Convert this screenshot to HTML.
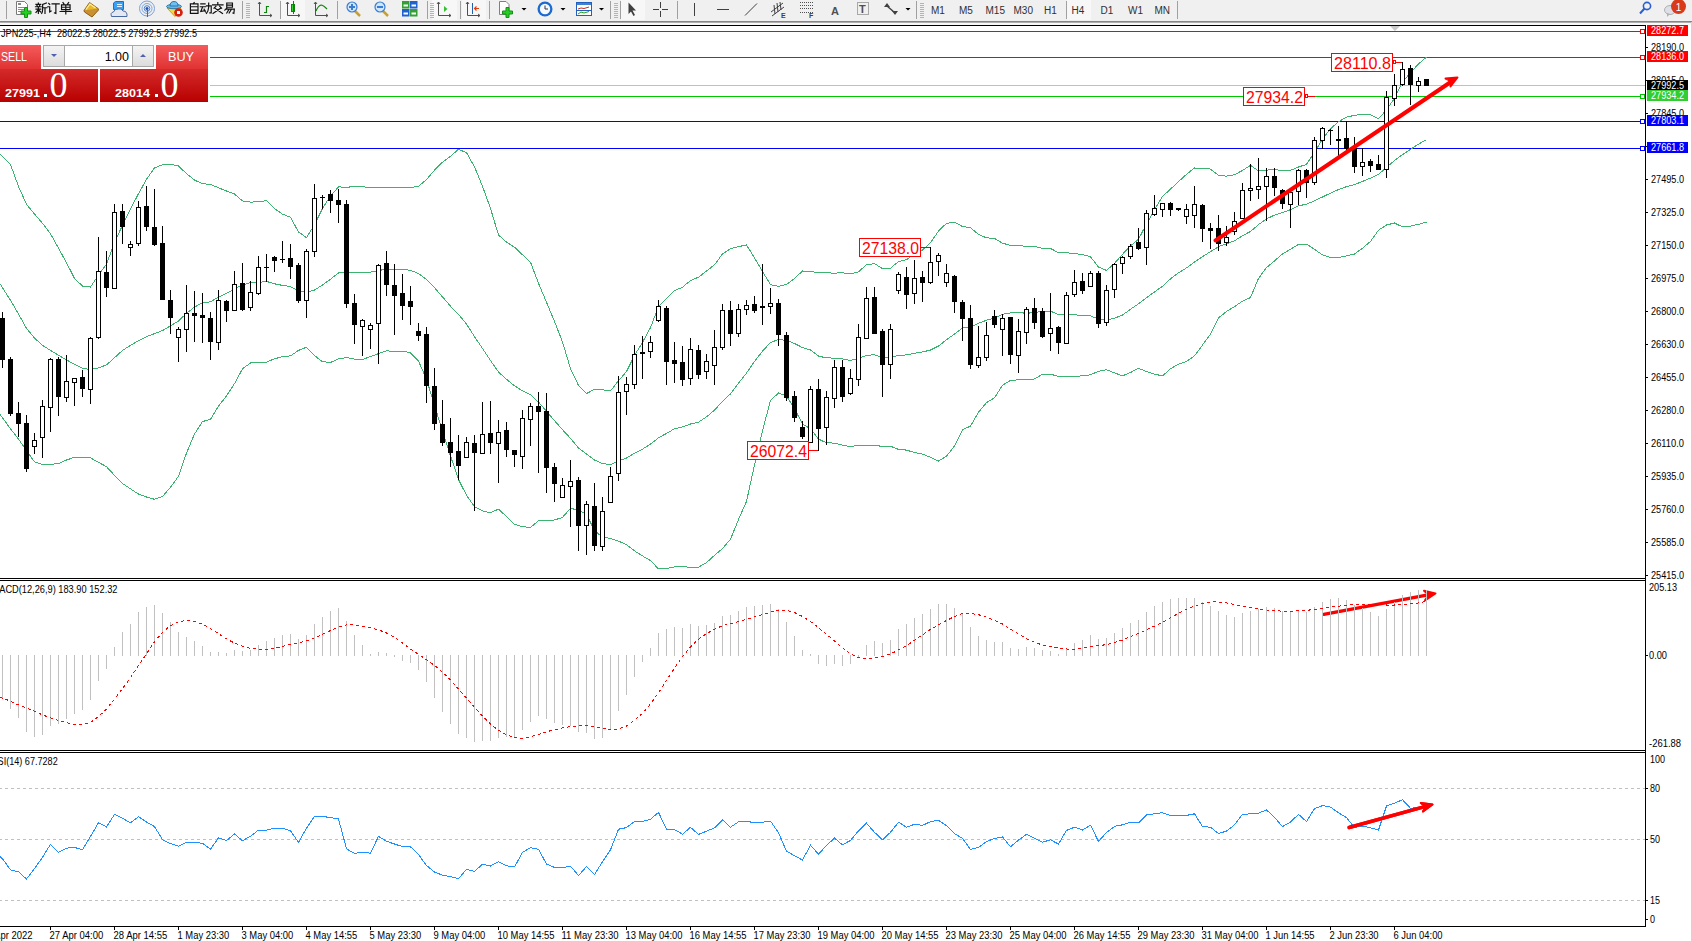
<!DOCTYPE html>
<html><head><meta charset="utf-8"><style>
html,body{margin:0;padding:0;width:1692px;height:941px;overflow:hidden;background:#fff;font-family:"Liberation Sans", sans-serif}
</style></head><body>
<svg width="1692" height="941" viewBox="0 0 1692 941" style="position:absolute;left:0;top:0" font-family='"Liberation Sans", sans-serif'><g shape-rendering="crispEdges"><rect x="0" y="0" width="1692" height="21" fill="#f0f0f0"/><rect x="0" y="21" width="1692" height="1" fill="#858585"/><rect x="0" y="22" width="1692" height="1" fill="#b0b0b0"/></g><g shape-rendering="crispEdges"><rect x="6" y="1" width="1" height="18" fill="#a0a0a0"/><rect x="281" y="0" width="24" height="20" fill="#f7f7f7"/><rect x="432" y="0" width="25" height="20" fill="#f7f7f7"/><rect x="462" y="0" width="24" height="20" fill="#f7f7f7"/><rect x="621" y="0" width="24" height="20" fill="#f7f7f7"/><rect x="1067" y="0" width="24" height="20" fill="#f7f7f7"/><rect x="242" y="1" width="1" height="18" fill="#a0a0a0"/><rect x="246" y="3" width="4" height="1" fill="#b4b4b4"/><rect x="246" y="5" width="4" height="1" fill="#b4b4b4"/><rect x="246" y="7" width="4" height="1" fill="#b4b4b4"/><rect x="246" y="9" width="4" height="1" fill="#b4b4b4"/><rect x="246" y="11" width="4" height="1" fill="#b4b4b4"/><rect x="246" y="13" width="4" height="1" fill="#b4b4b4"/><rect x="246" y="15" width="4" height="1" fill="#b4b4b4"/><rect x="246" y="17" width="4" height="1" fill="#b4b4b4"/><rect x="280" y="1" width="1" height="18" fill="#a0a0a0"/><rect x="337" y="1" width="1" height="18" fill="#a0a0a0"/><rect x="427" y="1" width="1" height="18" fill="#a0a0a0"/><rect x="430" y="3" width="4" height="1" fill="#b4b4b4"/><rect x="430" y="5" width="4" height="1" fill="#b4b4b4"/><rect x="430" y="7" width="4" height="1" fill="#b4b4b4"/><rect x="430" y="9" width="4" height="1" fill="#b4b4b4"/><rect x="430" y="11" width="4" height="1" fill="#b4b4b4"/><rect x="430" y="13" width="4" height="1" fill="#b4b4b4"/><rect x="430" y="15" width="4" height="1" fill="#b4b4b4"/><rect x="430" y="17" width="4" height="1" fill="#b4b4b4"/><rect x="460" y="1" width="1" height="18" fill="#a0a0a0"/><rect x="489" y="1" width="1" height="18" fill="#a0a0a0"/><rect x="610" y="1" width="1" height="18" fill="#a0a0a0"/><rect x="614" y="3" width="4" height="1" fill="#b4b4b4"/><rect x="614" y="5" width="4" height="1" fill="#b4b4b4"/><rect x="614" y="7" width="4" height="1" fill="#b4b4b4"/><rect x="614" y="9" width="4" height="1" fill="#b4b4b4"/><rect x="614" y="11" width="4" height="1" fill="#b4b4b4"/><rect x="614" y="13" width="4" height="1" fill="#b4b4b4"/><rect x="614" y="15" width="4" height="1" fill="#b4b4b4"/><rect x="614" y="17" width="4" height="1" fill="#b4b4b4"/><rect x="620" y="1" width="1" height="18" fill="#a0a0a0"/><rect x="677" y="1" width="1" height="18" fill="#a0a0a0"/><rect x="916" y="1" width="1" height="18" fill="#a0a0a0"/><rect x="920" y="3" width="4" height="1" fill="#b4b4b4"/><rect x="920" y="5" width="4" height="1" fill="#b4b4b4"/><rect x="920" y="7" width="4" height="1" fill="#b4b4b4"/><rect x="920" y="9" width="4" height="1" fill="#b4b4b4"/><rect x="920" y="11" width="4" height="1" fill="#b4b4b4"/><rect x="920" y="13" width="4" height="1" fill="#b4b4b4"/><rect x="920" y="15" width="4" height="1" fill="#b4b4b4"/><rect x="920" y="17" width="4" height="1" fill="#b4b4b4"/><rect x="1066" y="1" width="1" height="18" fill="#a0a0a0"/><rect x="1177" y="1" width="1" height="18" fill="#a0a0a0"/></g><path d="M16.5,1.5 H24.5 L27.5,4.5 V14.5 H16.5 Z" fill="#fff" stroke="#7a7a7a" stroke-width="1"/><rect x="18" y="3" width="3" height="2" fill="#8a8a8a"/><rect x="18" y="7" width="6" height="1" fill="#8a8a8a"/><rect x="18" y="9" width="6" height="1" fill="#8a8a8a"/><rect x="18" y="11" width="3" height="1" fill="#8a8a8a"/><path d="M24.5,7.5 h3 v3.5 h3.5 v3 h-3.5 v3.5 h-3 v-3.5 h-3.5 v-3 h3.5 z" fill="#22d022" stroke="#159015" stroke-width="1"/><path transform="translate(35.5,2.5) scale(0.95)" d="M3,0.5 V1.5 M0.5,2 H5.5 M1.5,3 L2,4 M4.5,3 L4,4 M0,4.5 H6 M0.5,7 H5.5 M3,4.5 V11.5 M3,7.5 L0.5,10.5 M3,7.5 L5.5,10 M11.5,0.5 L7.5,2 V7 Q7.5,10 6.5,11.5 M7.5,5.5 H12 M10,5.5 V11.5" fill="none" stroke="#111" stroke-width="1.25" stroke-linecap="square"/><path transform="translate(47.8,2.5) scale(0.95)" d="M1,1 L2,2 M0,4.5 H2 V10 L3.5,9 M4.5,1.5 H12 M8.5,1.5 V11.5 L7,11" fill="none" stroke="#111" stroke-width="1.25" stroke-linecap="square"/><path transform="translate(60.1,2.5) scale(0.95)" d="M3,0 L4,1.5 M9,0 L8,1.5 M1.5,2.5 H10.5 V7.5 H1.5 Z M1.5,5 H10.5 M6,2.5 V12 M0,9.5 H12" fill="none" stroke="#111" stroke-width="1.25" stroke-linecap="square"/><path transform="translate(188.5,2.5) scale(0.95)" d="M6,0 L5,1.5 M2,1.5 H10 V11.5 H2 Z M2,4.5 H10 M2,8 H10" fill="none" stroke="#111" stroke-width="1.25" stroke-linecap="square"/><path transform="translate(200.3,2.5) scale(0.95)" d="M0.5,1.5 H5 M0,4.5 H5.5 M2.5,4.5 L0.5,9.5 L5,8.5 M4,7 L5.5,10 M6.5,3.5 H11.5 V11 L10,11 M8.8,0.5 V5 Q8.5,9 6.5,11.5" fill="none" stroke="#111" stroke-width="1.25" stroke-linecap="square"/><path transform="translate(212.1,2.5) scale(0.95)" d="M6,0 V1.5 M0.5,2.5 H11.5 M4,4 L2,6 M8,4 L10,6 M3,6 L11,11.5 M9,6 L1,11.5" fill="none" stroke="#111" stroke-width="1.25" stroke-linecap="square"/><path transform="translate(223.9,2.5) scale(0.95)" d="M3,0.5 H9 V5 H3 Z M3,2.75 H9 M3,6 L1,8 M2.5,7 H11 L10.5,11.5 L9.5,11 M5.5,7 L3,11 M8,7 L5.5,11" fill="none" stroke="#111" stroke-width="1.25" stroke-linecap="square"/><path d="M84,10.5 L89.5,2.5 L98,8.5 L92,15.5 Z" fill="#e8b828" stroke="#a06a10" stroke-width="1"/><path d="M84,10.5 L84.5,12 L92,17 L98.5,10 L98,8.5" fill="#c89030" stroke="#905a10" stroke-width="1"/><path d="M86,9.5 L90,4 L95.5,8" fill="none" stroke="#fff0a0" stroke-width="1.2"/><path d="M113.5,3 L115.5,1.5 H123.5 V9.5 H113.5 Z" fill="#3aa0f4" stroke="#1a70d0" stroke-width="1"/><rect x="117" y="4" width="5" height="1" fill="#e0f0ff"/><rect x="117" y="6" width="5" height="1" fill="#e0f0ff"/><path d="M111.5,16.5 Q110,12.5 113.5,12 Q114.5,8.5 118.5,9 Q121.5,8 123,11 Q127.5,11 127,16.5 Z" fill="#e4e8f2" stroke="#4a68a0" stroke-width="1"/><circle cx="147" cy="8.5" r="7.5" fill="none" stroke="#7aa0e0" stroke-width="1"/><circle cx="147" cy="8.5" r="5" fill="none" stroke="#80a8d8" stroke-width="1"/><circle cx="147" cy="8.5" r="2.8" fill="none" stroke="#4a80d0" stroke-width="1"/><circle cx="147" cy="8.5" r="1.5" fill="#2050c0"/><rect x="147" y="9" width="1" height="8" fill="#10a010"/><path d="M167,8 L181,8 L175,16.5 Z" fill="#f2d848" stroke="#c8a020"/><ellipse cx="174" cy="6.5" rx="7.5" ry="2.2" fill="#68b8e8" stroke="#2a78b0"/><path d="M170,6 Q170,1.5 174,1.5 Q178,1.5 178,6 Z" fill="#70c0f0" stroke="#2a78b0"/><circle cx="178.5" cy="12.5" r="4.3" fill="#d82010"/><rect x="177" y="11" width="3" height="3" fill="#fff" shape-rendering="crispEdges"/><path d="M259.5,2 V15.5 H272" fill="none" stroke="#505050" stroke-width="1"/><path d="M258,4 L259.5,2 L261,4 M270,14 L272,15.5 L270,17" fill="none" stroke="#505050" stroke-width="1"/><path d="M264,12.5 H266.5 V6.5 H269" fill="none" stroke="#108010" stroke-width="1.2"/><path d="M287.5,2 V15.5 H300" fill="none" stroke="#505050" stroke-width="1"/><path d="M286,4 L287.5,2 L289,4 M298,14 L300,15.5 L298,17" fill="none" stroke="#505050" stroke-width="1"/><rect x="291.5" y="4.5" width="3" height="7" fill="#30d030" stroke="#108010"/><rect x="293" y="1" width="1" height="13" fill="#108010"/><path d="M315.5,2 V15.5 H328" fill="none" stroke="#505050" stroke-width="1"/><path d="M314,4 L315.5,2 L317,4 M326,14 L328,15.5 L326,17" fill="none" stroke="#505050" stroke-width="1"/><path d="M316,11 Q318,6 321,5 Q323,5 327,9" fill="none" stroke="#108010" stroke-width="1.2"/><line x1="355" y1="11" x2="360" y2="16" stroke="#c8a030" stroke-width="2.5"/><circle cx="352" cy="7" r="5" fill="#cfe6fb" stroke="#3a7cd0" stroke-width="1.2"/><rect x="349" y="6" width="6" height="2" fill="#3a7cd0"/><rect x="351" y="4" width="2" height="6" fill="#3a7cd0"/><line x1="383" y1="11" x2="388" y2="16" stroke="#c8a030" stroke-width="2.5"/><circle cx="380" cy="7" r="5" fill="#cfe6fb" stroke="#3a7cd0" stroke-width="1.2"/><rect x="377" y="6" width="6" height="2" fill="#3a7cd0"/><rect x="402" y="1" width="7.5" height="7.5" fill="#34a034"/><rect x="403.5" y="4.5" width="4.5" height="2" fill="#fff"/><rect x="410" y="1" width="7.5" height="7.5" fill="#2060d0"/><rect x="411.5" y="4.5" width="4.5" height="2" fill="#fff"/><rect x="402" y="9" width="7.5" height="7.5" fill="#2060d0"/><rect x="403.5" y="12.5" width="4.5" height="2" fill="#fff"/><rect x="410" y="9" width="7.5" height="7.5" fill="#34a034"/><rect x="411.5" y="12.5" width="4.5" height="2" fill="#fff"/><path d="M438.5,2 V15.5 H451" fill="none" stroke="#505050" stroke-width="1"/><path d="M437,4 L438.5,2 L440,4 M449,14 L451,15.5 L449,17" fill="none" stroke="#505050" stroke-width="1"/><path d="M444,6 L447.5,9 L444,12 Z" fill="#30c030"/><path d="M467.5,2 V15.5 H480" fill="none" stroke="#505050" stroke-width="1"/><path d="M466,4 L467.5,2 L469,4 M478,14 L480,15.5 L478,17" fill="none" stroke="#505050" stroke-width="1"/><rect x="472" y="3" width="1" height="11" fill="#2060b0"/><path d="M479,8.5 H474.5 M476.5,6.5 L474.5,8.5 L476.5,10.5" fill="none" stroke="#e04010" stroke-width="1.2"/><path d="M499.5,1.5 H506 L509,4.5 V14.5 H499.5 Z" fill="#fff" stroke="#808080"/><path d="M506,7.5 h3 v3.5 h3.5 v3 h-3.5 v3.5 h-3 v-3.5 h-3.5 v-3 h3.5 z" fill="#22d022" stroke="#159015" stroke-width="1"/><path d="M521.5,8 H526.5 L524,10.5 Z" fill="#000"/><path d="M560.5,8 H565.5 L563,10.5 Z" fill="#000"/><path d="M599.0,8 H604.0 L601.5,10.5 Z" fill="#000"/><path d="M905.5,8 H910.5 L908,10.5 Z" fill="#000"/><circle cx="545" cy="9" r="7.5" fill="#1a6ad0"/><circle cx="545" cy="9" r="5.2" fill="#f4f8ff"/><path d="M545,5.5 V9 H548" fill="none" stroke="#333" stroke-width="1"/><rect x="576.5" y="2.5" width="15" height="13" fill="#fff" stroke="#2060c0"/><rect x="577" y="3" width="14" height="2" fill="#4080d0"/><path d="M578,9 L581,8 L584,8.5 L589,7" fill="none" stroke="#c03020"/><rect x="577" y="10" width="14" height="1" fill="#2060c0"/><path d="M578,14 L581,12 L584,13 L589,11.5" fill="none" stroke="#20a020"/><path d="M628.5,2.5 L628.5,14 L631,11.5 L633.5,16 L635,15 L632.5,10.5 L636,10.5 Z" fill="#404040"/><g shape-rendering="crispEdges" fill="#404040"><rect x="653" y="9" width="6" height="1"/><rect x="662" y="9" width="6" height="1"/><rect x="660" y="2" width="1" height="6" /><rect x="660" y="11" width="1" height="6"/></g><g shape-rendering="crispEdges" fill="#404040"><rect x="694" y="3" width="1" height="13"/><rect x="717" y="9" width="12" height="1"/></g><line x1="745" y1="15.5" x2="757" y2="3.5" stroke="#404040" stroke-width="1"/><path d="M771,12 L783,3 M772,16 L784,7 M774,5 L775,14 M777,3 L778,12 M780,2 L781,10" fill="none" stroke="#404040" stroke-width="1"/><text x="781" y="18" font-size="7" font-weight="bold" fill="#404040">E</text><g fill="#505050" shape-rendering="crispEdges"><rect x="800" y="2" width="1" height="1"/><rect x="802" y="2" width="1" height="1"/><rect x="804" y="2" width="1" height="1"/><rect x="806" y="2" width="1" height="1"/><rect x="808" y="2" width="1" height="1"/><rect x="810" y="2" width="1" height="1"/><rect x="812" y="2" width="1" height="1"/><rect x="800" y="5" width="1" height="1"/><rect x="802" y="5" width="1" height="1"/><rect x="804" y="5" width="1" height="1"/><rect x="806" y="5" width="1" height="1"/><rect x="808" y="5" width="1" height="1"/><rect x="810" y="5" width="1" height="1"/><rect x="812" y="5" width="1" height="1"/><rect x="800" y="8" width="1" height="1"/><rect x="802" y="8" width="1" height="1"/><rect x="804" y="8" width="1" height="1"/><rect x="806" y="8" width="1" height="1"/><rect x="808" y="8" width="1" height="1"/><rect x="810" y="8" width="1" height="1"/><rect x="812" y="8" width="1" height="1"/><rect x="800" y="12" width="1" height="1"/><rect x="802" y="12" width="1" height="1"/><rect x="804" y="12" width="1" height="1"/><rect x="806" y="12" width="1" height="1"/><rect x="808" y="12" width="1" height="1"/><rect x="810" y="12" width="1" height="1"/><rect x="812" y="12" width="1" height="1"/></g><text x="809" y="18" font-size="7" font-weight="bold" fill="#404040">F</text><text x="831" y="15" font-size="11" font-weight="bold" fill="#505050">A</text><rect x="857.5" y="2.5" width="11" height="12" fill="none" stroke="#606060" stroke-dasharray="1,1"/><text x="859" y="13" font-size="11" font-weight="bold" fill="#505050">T</text><path d="M884,7 L887,3 L890,7 Z M892,11 L895,15 L898,11 Z" fill="#404040"/><path d="M887,6 L894,12" stroke="#404040" stroke-width="1.5"/><text x="931" y="13.5" font-size="10" fill="#303030">M1</text><text x="959" y="13.5" font-size="10" fill="#303030">M5</text><text x="985.5" y="13.5" font-size="10" fill="#303030">M15</text><text x="1013.5" y="13.5" font-size="10" fill="#303030">M30</text><text x="1044" y="13.5" font-size="10" fill="#303030">H1</text><text x="1071.5" y="13.5" font-size="10" fill="#303030">H4</text><text x="1100.5" y="13.5" font-size="10" fill="#303030">D1</text><text x="1128" y="13.5" font-size="10" fill="#303030">W1</text><text x="1154.5" y="13.5" font-size="10" fill="#303030">MN</text><circle cx="1647" cy="6" r="3.6" fill="none" stroke="#2a5fd0" stroke-width="1.6"/><line x1="1644.5" y1="8.5" x2="1640" y2="13.5" stroke="#2a5fd0" stroke-width="2"/><ellipse cx="1670" cy="10" rx="5.5" ry="4.5" fill="#dde0e8" stroke="#b0b0b0"/><path d="M1667,13 L1667,17 L1670,14 Z" fill="#b0b0b0"/><circle cx="1678.5" cy="6.5" r="7.5" fill="#d83a1a"/><text x="1678.5" y="11" font-size="10" fill="#fff" text-anchor="middle">1</text><g shape-rendering="crispEdges"><rect x="0" y="23" width="1691" height="918" fill="#fff"/><rect x="0" y="23" width="1691" height="2" fill="#f8f8f8"/><rect x="1691" y="22" width="1" height="919" fill="#d4d4d4"/><rect x="0" y="25" width="1646" height="1" fill="#000"/><rect x="1645" y="25" width="1" height="902" fill="#000"/><rect x="0" y="578" width="1646" height="1" fill="#000"/><rect x="0" y="580" width="1646" height="1" fill="#000"/><rect x="0" y="750" width="1646" height="1" fill="#000"/><rect x="0" y="752" width="1646" height="1" fill="#000"/><rect x="0" y="926" width="1646" height="1" fill="#000"/></g><polygon points="1390,26 1400,26 1395,31" fill="#c8c8c8"/><rect x="0" y="85" width="1645" height="1" fill="#c0c0c0" shape-rendering="crispEdges"/><rect x="0" y="31" width="1641" height="1" fill="#ff0000" shape-rendering="crispEdges"/><rect x="1640.5" y="29.5" width="4" height="4" fill="#fff" stroke="#ff0000" stroke-width="1" shape-rendering="crispEdges"/><rect x="0" y="57" width="1641" height="1" fill="#ff0000" shape-rendering="crispEdges"/><rect x="1640.5" y="55.5" width="4" height="4" fill="#fff" stroke="#ff0000" stroke-width="1" shape-rendering="crispEdges"/><rect x="0" y="96" width="1641" height="1" fill="#00c800" shape-rendering="crispEdges"/><rect x="1640.5" y="94.5" width="4" height="4" fill="#fff" stroke="#00c800" stroke-width="1" shape-rendering="crispEdges"/><rect x="0" y="121" width="1641" height="1" fill="#0000ff" shape-rendering="crispEdges"/><rect x="1640.5" y="119.5" width="4" height="4" fill="#fff" stroke="#0000ff" stroke-width="1" shape-rendering="crispEdges"/><rect x="0" y="148" width="1641" height="1" fill="#0000ff" shape-rendering="crispEdges"/><rect x="1640.5" y="146.5" width="4" height="4" fill="#fff" stroke="#0000ff" stroke-width="1" shape-rendering="crispEdges"/><g fill="none" stroke="#3cb371" stroke-width="1" shape-rendering="crispEdges"><polyline points="0.0,153.8 2.5,156.3 10.5,164.4 18.5,186.5 26.5,204.3 34.5,214.1 42.5,223.3 50.5,233.8 58.5,248.2 66.5,262.7 74.5,278.4 82.5,286.1 90.5,287.1 98.5,275.1 106.5,264.0 114.5,242.8 122.5,225.1 130.5,209.0 138.5,193.7 146.5,179.4 154.5,167.9 162.5,164.7 170.5,164.3 178.5,165.9 186.5,173.7 194.5,180.0 202.5,183.8 210.5,184.3 218.5,187.8 226.5,191.0 234.5,194.0 242.5,200.9 250.5,202.1 258.5,201.8 266.5,200.6 274.5,208.7 282.5,214.1 290.5,217.2 298.5,232.0 306.5,237.6 314.5,224.7 322.5,208.4 330.5,195.9 338.5,186.9 346.5,187.2 354.5,186.7 362.5,186.5 370.5,188.0 378.5,187.3 386.5,187.7 394.5,187.7 402.5,187.9 410.5,187.6 418.5,186.3 426.5,179.5 434.5,170.2 442.5,162.2 450.5,156.3 458.5,149.3 466.5,152.7 474.5,166.8 482.5,186.3 490.5,208.5 498.5,235.0 506.5,242.1 514.5,247.2 522.5,254.8 530.5,262.2 538.5,283.3 546.5,302.3 554.5,321.4 562.5,342.0 570.5,368.7 578.5,385.5 586.5,393.6 594.5,389.3 602.5,389.8 610.5,390.9 618.5,380.8 626.5,371.5 634.5,355.4 642.5,342.4 650.5,327.6 658.5,306.7 666.5,298.3 674.5,290.7 682.5,287.2 690.5,280.5 698.5,277.2 706.5,271.1 714.5,264.7 722.5,254.0 730.5,248.7 738.5,246.7 746.5,244.9 754.5,257.9 762.5,271.6 770.5,284.6 778.5,286.3 786.5,284.5 794.5,278.4 802.5,271.0 810.5,271.3 818.5,273.0 826.5,272.9 834.5,273.1 842.5,272.8 850.5,273.9 858.5,271.8 866.5,264.8 874.5,263.6 882.5,268.6 890.5,268.2 898.5,261.5 906.5,259.7 914.5,254.1 922.5,250.0 930.5,242.7 938.5,231.1 946.5,223.3 954.5,222.2 962.5,226.5 970.5,227.7 978.5,234.5 986.5,237.8 994.5,238.5 1002.5,243.1 1010.5,245.5 1018.5,245.6 1026.5,246.4 1034.5,246.4 1042.5,248.4 1050.5,248.4 1058.5,252.7 1066.5,252.8 1074.5,253.5 1082.5,254.6 1090.5,256.8 1098.5,267.1 1106.5,270.4 1114.5,263.4 1122.5,254.3 1130.5,245.9 1138.5,239.3 1146.5,223.9 1154.5,209.7 1162.5,196.5 1170.5,189.1 1178.5,181.6 1186.5,174.3 1194.5,168.0 1202.5,168.2 1210.5,169.1 1218.5,175.4 1226.5,176.1 1234.5,174.8 1242.5,170.4 1250.5,165.4 1258.5,170.9 1266.5,170.2 1274.5,169.4 1282.5,170.8 1290.5,170.3 1298.5,167.0 1306.5,164.4 1314.5,152.3 1322.5,139.1 1330.5,128.8 1338.5,121.8 1346.5,117.2 1354.5,115.3 1362.5,114.5 1370.5,114.9 1378.5,118.7 1386.5,109.9 1394.5,98.2 1402.5,82.2 1410.5,72.7 1418.5,64.0 1426.5,57.1"/><polyline points="0.0,283.7 2.5,287.7 10.5,300.4 18.5,313.9 26.5,328.4 34.5,338.1 42.5,345.3 50.5,350.4 58.5,355.2 66.5,359.9 74.5,364.4 82.5,368.1 90.5,369.6 98.5,367.9 106.5,364.9 114.5,357.7 122.5,350.4 130.5,345.3 138.5,340.8 146.5,336.6 154.5,333.6 162.5,330.6 170.5,325.8 178.5,321.1 186.5,313.3 194.5,307.1 202.5,302.7 210.5,301.8 218.5,297.0 226.5,293.5 234.5,288.8 242.5,284.9 250.5,282.6 258.5,282.4 266.5,281.4 274.5,283.8 282.5,285.4 290.5,286.5 298.5,291.2 306.5,292.4 314.5,290.1 322.5,285.0 330.5,279.2 338.5,272.9 346.5,272.4 354.5,272.9 362.5,273.0 370.5,272.2 378.5,270.5 386.5,269.2 394.5,269.7 402.5,269.5 410.5,270.2 418.5,273.6 426.5,279.5 434.5,287.7 442.5,296.9 450.5,306.2 458.5,314.4 466.5,324.0 474.5,336.7 482.5,348.5 490.5,360.6 498.5,372.0 506.5,379.3 514.5,385.8 522.5,390.8 530.5,394.8 538.5,402.1 546.5,411.2 554.5,420.7 562.5,429.7 570.5,438.4 578.5,447.9 586.5,453.9 594.5,460.0 602.5,463.5 610.5,464.6 618.5,461.0 626.5,458.1 634.5,453.1 642.5,449.1 650.5,444.1 658.5,437.8 666.5,433.4 674.5,428.8 682.5,426.8 690.5,424.0 698.5,422.2 706.5,416.9 714.5,410.1 722.5,401.3 730.5,393.9 738.5,383.1 746.5,373.1 754.5,361.4 762.5,351.2 770.5,342.5 778.5,339.6 786.5,340.3 794.5,343.5 802.5,347.6 810.5,350.0 818.5,356.1 826.5,357.9 834.5,358.1 842.5,358.9 850.5,360.4 858.5,358.5 866.5,355.4 874.5,354.7 882.5,357.4 890.5,357.2 898.5,355.5 906.5,354.9 914.5,353.3 922.5,352.0 930.5,350.0 938.5,346.0 946.5,339.8 954.5,334.0 962.5,328.1 970.5,326.9 978.5,323.3 986.5,320.2 994.5,318.1 1002.5,314.2 1010.5,313.0 1018.5,312.7 1026.5,313.2 1034.5,312.7 1042.5,311.3 1050.5,311.2 1058.5,314.6 1066.5,314.7 1074.5,314.9 1082.5,315.3 1090.5,315.8 1098.5,319.2 1106.5,320.0 1114.5,318.2 1122.5,315.1 1130.5,309.2 1138.5,303.8 1146.5,297.7 1154.5,291.9 1162.5,286.2 1170.5,278.9 1178.5,272.8 1186.5,267.9 1194.5,262.0 1202.5,256.6 1210.5,251.7 1218.5,246.7 1226.5,243.8 1234.5,240.8 1242.5,235.7 1250.5,231.5 1258.5,224.6 1266.5,218.9 1274.5,215.1 1282.5,212.4 1290.5,209.7 1298.5,205.8 1306.5,204.2 1314.5,200.8 1322.5,197.0 1330.5,193.1 1338.5,189.6 1346.5,186.6 1354.5,184.7 1362.5,181.4 1370.5,178.1 1378.5,174.4 1386.5,167.4 1394.5,160.6 1402.5,154.6 1410.5,149.4 1418.5,144.1 1426.5,139.6"/><polyline points="0.0,414.3 2.5,417.8 10.5,428.8 18.5,439.0 26.5,450.7 34.5,461.8 42.5,464.5 50.5,464.4 58.5,463.6 66.5,460.0 74.5,457.3 82.5,457.3 90.5,457.9 98.5,462.3 106.5,466.7 114.5,475.4 122.5,483.5 130.5,488.8 138.5,494.1 146.5,497.0 154.5,499.3 162.5,496.5 170.5,487.3 178.5,476.3 186.5,453.0 194.5,434.1 202.5,421.6 210.5,419.3 218.5,406.1 226.5,395.9 234.5,383.6 242.5,368.8 250.5,363.0 258.5,362.9 266.5,362.1 274.5,358.8 282.5,356.7 290.5,355.9 298.5,350.4 306.5,347.2 314.5,355.6 322.5,361.7 330.5,362.5 338.5,358.9 346.5,357.6 354.5,359.2 362.5,359.6 370.5,356.4 378.5,353.7 386.5,350.7 394.5,351.7 402.5,351.1 410.5,352.8 418.5,360.9 426.5,379.5 434.5,405.2 442.5,431.5 450.5,456.0 458.5,479.5 466.5,495.3 474.5,506.6 482.5,510.8 490.5,512.8 498.5,509.1 506.5,516.6 514.5,524.4 522.5,526.7 530.5,527.4 538.5,520.8 546.5,520.2 554.5,520.0 562.5,517.4 570.5,508.2 578.5,510.4 586.5,514.2 594.5,530.7 602.5,537.2 610.5,538.4 618.5,541.1 626.5,544.7 634.5,550.9 642.5,555.9 650.5,560.6 658.5,568.9 666.5,568.5 674.5,566.9 682.5,566.5 690.5,567.5 698.5,567.2 706.5,562.6 714.5,555.4 722.5,548.6 730.5,539.2 738.5,519.5 746.5,501.4 754.5,464.8 762.5,430.7 770.5,400.5 778.5,393.0 786.5,396.1 794.5,408.5 802.5,424.2 810.5,428.6 818.5,439.1 826.5,442.8 834.5,443.1 842.5,445.1 850.5,446.8 858.5,445.2 866.5,445.9 874.5,445.7 882.5,446.2 890.5,446.2 898.5,449.4 906.5,450.1 914.5,452.5 922.5,454.1 930.5,457.3 938.5,461.0 946.5,456.3 954.5,445.9 962.5,429.7 970.5,426.1 978.5,412.2 986.5,402.7 994.5,397.7 1002.5,385.3 1010.5,380.5 1018.5,379.8 1026.5,380.0 1034.5,379.0 1042.5,374.2 1050.5,374.1 1058.5,376.5 1066.5,376.5 1074.5,376.3 1082.5,375.9 1090.5,374.8 1098.5,371.3 1106.5,369.7 1114.5,372.9 1122.5,375.9 1130.5,372.5 1138.5,368.3 1146.5,371.5 1154.5,374.1 1162.5,375.9 1170.5,368.7 1178.5,364.1 1186.5,361.5 1194.5,355.9 1202.5,345.0 1210.5,334.2 1218.5,317.9 1226.5,311.5 1234.5,306.7 1242.5,301.1 1250.5,297.6 1258.5,278.4 1266.5,267.6 1274.5,260.9 1282.5,254.0 1290.5,249.1 1298.5,244.5 1306.5,244.1 1314.5,249.4 1322.5,254.9 1330.5,257.4 1338.5,257.4 1346.5,255.9 1354.5,254.0 1362.5,248.2 1370.5,241.4 1378.5,230.2 1386.5,225.0 1394.5,223.0 1402.5,226.9 1410.5,226.1 1418.5,224.3 1426.5,222.2"/></g><g shape-rendering="crispEdges"><rect x="2" y="312" width="1" height="56" fill="#000"/><rect x="0" y="318" width="5" height="42" fill="#000"/><rect x="10" y="357" width="1" height="59" fill="#000"/><rect x="8" y="359" width="5" height="55" fill="#000"/><rect x="18" y="402" width="1" height="35" fill="#000"/><rect x="16" y="413" width="5" height="11" fill="#000"/><rect x="26" y="415" width="1" height="57" fill="#000"/><rect x="24" y="423" width="5" height="46" fill="#000"/><rect x="34" y="433" width="1" height="21" fill="#000"/><rect x="32" y="440" width="5" height="7" fill="#000"/><rect x="33" y="441" width="3" height="5" fill="#fff"/><rect x="42" y="400" width="1" height="58" fill="#000"/><rect x="40" y="406" width="5" height="32" fill="#000"/><rect x="41" y="407" width="3" height="30" fill="#fff"/><rect x="50" y="358" width="1" height="74" fill="#000"/><rect x="48" y="359" width="5" height="49" fill="#000"/><rect x="49" y="360" width="3" height="47" fill="#fff"/><rect x="58" y="357" width="1" height="59" fill="#000"/><rect x="56" y="359" width="5" height="38" fill="#000"/><rect x="66" y="355" width="1" height="47" fill="#000"/><rect x="64" y="381" width="5" height="17" fill="#000"/><rect x="65" y="382" width="3" height="15" fill="#fff"/><rect x="74" y="378" width="1" height="28" fill="#000"/><rect x="72" y="378" width="5" height="5" fill="#000"/><rect x="73" y="379" width="3" height="3" fill="#fff"/><rect x="82" y="370" width="1" height="27" fill="#000"/><rect x="80" y="377" width="5" height="12" fill="#000"/><rect x="90" y="337" width="1" height="67" fill="#000"/><rect x="88" y="338" width="5" height="52" fill="#000"/><rect x="89" y="339" width="3" height="50" fill="#fff"/><rect x="98" y="237" width="1" height="102" fill="#000"/><rect x="96" y="271" width="5" height="67" fill="#000"/><rect x="97" y="272" width="3" height="65" fill="#fff"/><rect x="106" y="251" width="1" height="46" fill="#000"/><rect x="104" y="272" width="5" height="16" fill="#000"/><rect x="114" y="204" width="1" height="85" fill="#000"/><rect x="112" y="212" width="5" height="77" fill="#000"/><rect x="113" y="213" width="3" height="75" fill="#fff"/><rect x="122" y="204" width="1" height="40" fill="#000"/><rect x="120" y="211" width="5" height="16" fill="#000"/><rect x="130" y="241" width="1" height="15" fill="#000"/><rect x="128" y="244" width="5" height="4" fill="#000"/><rect x="129" y="245" width="3" height="2" fill="#fff"/><rect x="138" y="201" width="1" height="45" fill="#000"/><rect x="136" y="207" width="5" height="37" fill="#000"/><rect x="137" y="208" width="3" height="35" fill="#fff"/><rect x="146" y="186" width="1" height="45" fill="#000"/><rect x="144" y="206" width="5" height="21" fill="#000"/><rect x="154" y="189" width="1" height="57" fill="#000"/><rect x="152" y="227" width="5" height="18" fill="#000"/><rect x="162" y="226" width="1" height="74" fill="#000"/><rect x="160" y="243" width="5" height="57" fill="#000"/><rect x="170" y="290" width="1" height="44" fill="#000"/><rect x="168" y="300" width="5" height="18" fill="#000"/><rect x="178" y="327" width="1" height="35" fill="#000"/><rect x="176" y="329" width="5" height="9" fill="#000"/><rect x="177" y="330" width="3" height="7" fill="#fff"/><rect x="186" y="285" width="1" height="67" fill="#000"/><rect x="184" y="313" width="5" height="17" fill="#000"/><rect x="185" y="314" width="3" height="15" fill="#fff"/><rect x="194" y="291" width="1" height="51" fill="#000"/><rect x="192" y="313" width="5" height="3" fill="#000"/><rect x="202" y="293" width="1" height="50" fill="#000"/><rect x="200" y="315" width="5" height="3" fill="#000"/><rect x="210" y="312" width="1" height="48" fill="#000"/><rect x="208" y="318" width="5" height="24" fill="#000"/><rect x="218" y="290" width="1" height="60" fill="#000"/><rect x="216" y="300" width="5" height="43" fill="#000"/><rect x="217" y="301" width="3" height="41" fill="#fff"/><rect x="226" y="300" width="1" height="22" fill="#000"/><rect x="224" y="301" width="5" height="10" fill="#000"/><rect x="234" y="271" width="1" height="40" fill="#000"/><rect x="232" y="284" width="5" height="27" fill="#000"/><rect x="233" y="285" width="3" height="25" fill="#fff"/><rect x="242" y="263" width="1" height="48" fill="#000"/><rect x="240" y="283" width="5" height="27" fill="#000"/><rect x="250" y="281" width="1" height="30" fill="#000"/><rect x="248" y="292" width="5" height="16" fill="#000"/><rect x="249" y="293" width="3" height="14" fill="#fff"/><rect x="258" y="256" width="1" height="39" fill="#000"/><rect x="256" y="267" width="5" height="27" fill="#000"/><rect x="257" y="268" width="3" height="25" fill="#fff"/><rect x="266" y="254" width="1" height="28" fill="#000"/><rect x="264" y="267" width="5" height="1" fill="#000"/><rect x="274" y="256" width="1" height="16" fill="#000"/><rect x="272" y="257" width="5" height="4" fill="#000"/><rect x="282" y="241" width="1" height="22" fill="#000"/><rect x="280" y="259" width="5" height="1" fill="#000"/><rect x="290" y="244" width="1" height="35" fill="#000"/><rect x="288" y="258" width="5" height="9" fill="#000"/><rect x="298" y="263" width="1" height="40" fill="#000"/><rect x="296" y="265" width="5" height="36" fill="#000"/><rect x="306" y="249" width="1" height="69" fill="#000"/><rect x="304" y="251" width="5" height="50" fill="#000"/><rect x="305" y="252" width="3" height="48" fill="#fff"/><rect x="314" y="184" width="1" height="73" fill="#000"/><rect x="312" y="198" width="5" height="54" fill="#000"/><rect x="313" y="199" width="3" height="52" fill="#fff"/><rect x="322" y="195" width="1" height="14" fill="#000"/><rect x="320" y="197" width="5" height="1" fill="#000"/><rect x="330" y="190" width="1" height="23" fill="#000"/><rect x="328" y="194" width="5" height="7" fill="#000"/><rect x="338" y="189" width="1" height="34" fill="#000"/><rect x="336" y="200" width="5" height="5" fill="#000"/><rect x="346" y="200" width="1" height="108" fill="#000"/><rect x="344" y="204" width="5" height="100" fill="#000"/><rect x="354" y="294" width="1" height="50" fill="#000"/><rect x="352" y="303" width="5" height="22" fill="#000"/><rect x="362" y="319" width="1" height="37" fill="#000"/><rect x="360" y="320" width="5" height="7" fill="#000"/><rect x="361" y="321" width="3" height="5" fill="#fff"/><rect x="370" y="323" width="1" height="26" fill="#000"/><rect x="368" y="325" width="5" height="5" fill="#000"/><rect x="369" y="326" width="3" height="3" fill="#fff"/><rect x="378" y="264" width="1" height="100" fill="#000"/><rect x="376" y="265" width="5" height="59" fill="#000"/><rect x="377" y="266" width="3" height="57" fill="#fff"/><rect x="386" y="251" width="1" height="45" fill="#000"/><rect x="384" y="263" width="5" height="22" fill="#000"/><rect x="394" y="264" width="1" height="71" fill="#000"/><rect x="392" y="285" width="5" height="11" fill="#000"/><rect x="402" y="274" width="1" height="46" fill="#000"/><rect x="400" y="293" width="5" height="13" fill="#000"/><rect x="410" y="286" width="1" height="39" fill="#000"/><rect x="408" y="301" width="5" height="6" fill="#000"/><rect x="418" y="323" width="1" height="18" fill="#000"/><rect x="416" y="331" width="5" height="5" fill="#000"/><rect x="426" y="327" width="1" height="76" fill="#000"/><rect x="424" y="334" width="5" height="52" fill="#000"/><rect x="434" y="368" width="1" height="62" fill="#000"/><rect x="432" y="386" width="5" height="38" fill="#000"/><rect x="442" y="400" width="1" height="46" fill="#000"/><rect x="440" y="424" width="5" height="19" fill="#000"/><rect x="450" y="418" width="1" height="49" fill="#000"/><rect x="448" y="442" width="5" height="11" fill="#000"/><rect x="458" y="435" width="1" height="45" fill="#000"/><rect x="456" y="451" width="5" height="15" fill="#000"/><rect x="466" y="437" width="1" height="21" fill="#000"/><rect x="464" y="442" width="5" height="16" fill="#000"/><rect x="465" y="443" width="3" height="14" fill="#fff"/><rect x="474" y="435" width="1" height="76" fill="#000"/><rect x="472" y="443" width="5" height="10" fill="#000"/><rect x="482" y="402" width="1" height="52" fill="#000"/><rect x="480" y="434" width="5" height="20" fill="#000"/><rect x="481" y="435" width="3" height="18" fill="#fff"/><rect x="490" y="401" width="1" height="53" fill="#000"/><rect x="488" y="433" width="5" height="10" fill="#000"/><rect x="498" y="420" width="1" height="63" fill="#000"/><rect x="496" y="432" width="5" height="12" fill="#000"/><rect x="497" y="433" width="3" height="10" fill="#fff"/><rect x="506" y="422" width="1" height="35" fill="#000"/><rect x="504" y="430" width="5" height="20" fill="#000"/><rect x="514" y="450" width="1" height="17" fill="#000"/><rect x="512" y="450" width="5" height="5" fill="#000"/><rect x="522" y="410" width="1" height="59" fill="#000"/><rect x="520" y="418" width="5" height="39" fill="#000"/><rect x="521" y="419" width="3" height="37" fill="#fff"/><rect x="530" y="403" width="1" height="43" fill="#000"/><rect x="528" y="406" width="5" height="14" fill="#000"/><rect x="529" y="407" width="3" height="12" fill="#fff"/><rect x="538" y="392" width="1" height="81" fill="#000"/><rect x="536" y="406" width="5" height="6" fill="#000"/><rect x="546" y="393" width="1" height="100" fill="#000"/><rect x="544" y="411" width="5" height="57" fill="#000"/><rect x="554" y="463" width="1" height="39" fill="#000"/><rect x="552" y="467" width="5" height="17" fill="#000"/><rect x="562" y="478" width="1" height="20" fill="#000"/><rect x="560" y="485" width="5" height="13" fill="#000"/><rect x="561" y="486" width="3" height="11" fill="#fff"/><rect x="570" y="460" width="1" height="67" fill="#000"/><rect x="568" y="481" width="5" height="6" fill="#000"/><rect x="569" y="482" width="3" height="4" fill="#fff"/><rect x="578" y="477" width="1" height="74" fill="#000"/><rect x="576" y="480" width="5" height="46" fill="#000"/><rect x="586" y="501" width="1" height="54" fill="#000"/><rect x="584" y="504" width="5" height="22" fill="#000"/><rect x="585" y="505" width="3" height="20" fill="#fff"/><rect x="594" y="483" width="1" height="68" fill="#000"/><rect x="592" y="506" width="5" height="40" fill="#000"/><rect x="602" y="497" width="1" height="54" fill="#000"/><rect x="600" y="511" width="5" height="36" fill="#000"/><rect x="601" y="512" width="3" height="34" fill="#fff"/><rect x="610" y="467" width="1" height="36" fill="#000"/><rect x="608" y="476" width="5" height="27" fill="#000"/><rect x="609" y="477" width="3" height="25" fill="#fff"/><rect x="618" y="376" width="1" height="105" fill="#000"/><rect x="616" y="392" width="5" height="82" fill="#000"/><rect x="617" y="393" width="3" height="80" fill="#fff"/><rect x="626" y="377" width="1" height="38" fill="#000"/><rect x="624" y="384" width="5" height="8" fill="#000"/><rect x="625" y="385" width="3" height="6" fill="#fff"/><rect x="634" y="345" width="1" height="44" fill="#000"/><rect x="632" y="354" width="5" height="31" fill="#000"/><rect x="633" y="355" width="3" height="29" fill="#fff"/><rect x="642" y="336" width="1" height="43" fill="#000"/><rect x="640" y="352" width="5" height="2" fill="#000"/><rect x="650" y="336" width="1" height="22" fill="#000"/><rect x="648" y="342" width="5" height="10" fill="#000"/><rect x="649" y="343" width="3" height="8" fill="#fff"/><rect x="658" y="300" width="1" height="22" fill="#000"/><rect x="656" y="306" width="5" height="15" fill="#000"/><rect x="657" y="307" width="3" height="13" fill="#fff"/><rect x="666" y="306" width="1" height="79" fill="#000"/><rect x="664" y="308" width="5" height="54" fill="#000"/><rect x="674" y="342" width="1" height="41" fill="#000"/><rect x="672" y="360" width="5" height="4" fill="#000"/><rect x="682" y="346" width="1" height="40" fill="#000"/><rect x="680" y="362" width="5" height="18" fill="#000"/><rect x="690" y="338" width="1" height="47" fill="#000"/><rect x="688" y="349" width="5" height="30" fill="#000"/><rect x="689" y="350" width="3" height="28" fill="#fff"/><rect x="698" y="345" width="1" height="34" fill="#000"/><rect x="696" y="350" width="5" height="25" fill="#000"/><rect x="706" y="354" width="1" height="25" fill="#000"/><rect x="704" y="361" width="5" height="11" fill="#000"/><rect x="705" y="362" width="3" height="9" fill="#fff"/><rect x="714" y="330" width="1" height="55" fill="#000"/><rect x="712" y="347" width="5" height="19" fill="#000"/><rect x="713" y="348" width="3" height="17" fill="#fff"/><rect x="722" y="304" width="1" height="46" fill="#000"/><rect x="720" y="310" width="5" height="38" fill="#000"/><rect x="721" y="311" width="3" height="36" fill="#fff"/><rect x="730" y="301" width="1" height="45" fill="#000"/><rect x="728" y="310" width="5" height="24" fill="#000"/><rect x="738" y="304" width="1" height="33" fill="#000"/><rect x="736" y="309" width="5" height="25" fill="#000"/><rect x="737" y="310" width="3" height="23" fill="#fff"/><rect x="746" y="300" width="1" height="15" fill="#000"/><rect x="744" y="305" width="5" height="5" fill="#000"/><rect x="745" y="306" width="3" height="3" fill="#fff"/><rect x="754" y="296" width="1" height="17" fill="#000"/><rect x="752" y="304" width="5" height="7" fill="#000"/><rect x="762" y="264" width="1" height="61" fill="#000"/><rect x="760" y="306" width="5" height="2" fill="#000"/><rect x="770" y="288" width="1" height="26" fill="#000"/><rect x="768" y="303" width="5" height="4" fill="#000"/><rect x="769" y="304" width="3" height="2" fill="#fff"/><rect x="778" y="299" width="1" height="47" fill="#000"/><rect x="776" y="303" width="5" height="32" fill="#000"/><rect x="786" y="332" width="1" height="69" fill="#000"/><rect x="784" y="335" width="5" height="63" fill="#000"/><rect x="794" y="391" width="1" height="31" fill="#000"/><rect x="792" y="396" width="5" height="22" fill="#000"/><rect x="802" y="421" width="1" height="18" fill="#000"/><rect x="800" y="427" width="5" height="10" fill="#000"/><rect x="810" y="386" width="1" height="57" fill="#000"/><rect x="808" y="389" width="5" height="54" fill="#000"/><rect x="809" y="390" width="3" height="52" fill="#fff"/><rect x="818" y="379" width="1" height="72" fill="#000"/><rect x="816" y="389" width="5" height="40" fill="#000"/><rect x="826" y="391" width="1" height="54" fill="#000"/><rect x="824" y="397" width="5" height="31" fill="#000"/><rect x="825" y="398" width="3" height="29" fill="#fff"/><rect x="834" y="360" width="1" height="48" fill="#000"/><rect x="832" y="367" width="5" height="32" fill="#000"/><rect x="833" y="368" width="3" height="30" fill="#fff"/><rect x="842" y="360" width="1" height="42" fill="#000"/><rect x="840" y="367" width="5" height="30" fill="#000"/><rect x="850" y="369" width="1" height="26" fill="#000"/><rect x="848" y="378" width="5" height="16" fill="#000"/><rect x="849" y="379" width="3" height="14" fill="#fff"/><rect x="858" y="324" width="1" height="62" fill="#000"/><rect x="856" y="337" width="5" height="43" fill="#000"/><rect x="857" y="338" width="3" height="41" fill="#fff"/><rect x="866" y="287" width="1" height="52" fill="#000"/><rect x="864" y="298" width="5" height="41" fill="#000"/><rect x="865" y="299" width="3" height="39" fill="#fff"/><rect x="874" y="287" width="1" height="47" fill="#000"/><rect x="872" y="297" width="5" height="37" fill="#000"/><rect x="882" y="329" width="1" height="68" fill="#000"/><rect x="880" y="331" width="5" height="34" fill="#000"/><rect x="890" y="324" width="1" height="55" fill="#000"/><rect x="888" y="329" width="5" height="36" fill="#000"/><rect x="889" y="330" width="3" height="34" fill="#fff"/><rect x="898" y="272" width="1" height="22" fill="#000"/><rect x="896" y="274" width="5" height="17" fill="#000"/><rect x="897" y="275" width="3" height="15" fill="#fff"/><rect x="906" y="267" width="1" height="42" fill="#000"/><rect x="904" y="277" width="5" height="18" fill="#000"/><rect x="914" y="260" width="1" height="44" fill="#000"/><rect x="912" y="278" width="5" height="16" fill="#000"/><rect x="913" y="279" width="3" height="14" fill="#fff"/><rect x="922" y="271" width="1" height="31" fill="#000"/><rect x="920" y="277" width="5" height="6" fill="#000"/><rect x="930" y="247" width="1" height="37" fill="#000"/><rect x="928" y="262" width="5" height="21" fill="#000"/><rect x="929" y="263" width="3" height="19" fill="#fff"/><rect x="938" y="253" width="1" height="23" fill="#000"/><rect x="936" y="255" width="5" height="7" fill="#000"/><rect x="937" y="256" width="3" height="5" fill="#fff"/><rect x="946" y="264" width="1" height="23" fill="#000"/><rect x="944" y="273" width="5" height="10" fill="#000"/><rect x="945" y="274" width="3" height="8" fill="#fff"/><rect x="954" y="275" width="1" height="38" fill="#000"/><rect x="952" y="276" width="5" height="26" fill="#000"/><rect x="962" y="300" width="1" height="41" fill="#000"/><rect x="960" y="302" width="5" height="17" fill="#000"/><rect x="970" y="305" width="1" height="64" fill="#000"/><rect x="968" y="318" width="5" height="47" fill="#000"/><rect x="978" y="326" width="1" height="42" fill="#000"/><rect x="976" y="357" width="5" height="9" fill="#000"/><rect x="977" y="358" width="3" height="7" fill="#fff"/><rect x="986" y="322" width="1" height="39" fill="#000"/><rect x="984" y="335" width="5" height="23" fill="#000"/><rect x="985" y="336" width="3" height="21" fill="#fff"/><rect x="994" y="310" width="1" height="18" fill="#000"/><rect x="992" y="316" width="5" height="9" fill="#000"/><rect x="1002" y="314" width="1" height="42" fill="#000"/><rect x="1000" y="318" width="5" height="12" fill="#000"/><rect x="1001" y="319" width="3" height="10" fill="#fff"/><rect x="1010" y="317" width="1" height="47" fill="#000"/><rect x="1008" y="317" width="5" height="38" fill="#000"/><rect x="1018" y="319" width="1" height="54" fill="#000"/><rect x="1016" y="331" width="5" height="25" fill="#000"/><rect x="1017" y="332" width="3" height="23" fill="#fff"/><rect x="1026" y="307" width="1" height="37" fill="#000"/><rect x="1024" y="309" width="5" height="24" fill="#000"/><rect x="1025" y="310" width="3" height="22" fill="#fff"/><rect x="1034" y="298" width="1" height="31" fill="#000"/><rect x="1032" y="308" width="5" height="15" fill="#000"/><rect x="1042" y="308" width="1" height="30" fill="#000"/><rect x="1040" y="311" width="5" height="26" fill="#000"/><rect x="1050" y="293" width="1" height="58" fill="#000"/><rect x="1048" y="328" width="5" height="6" fill="#000"/><rect x="1049" y="329" width="3" height="4" fill="#fff"/><rect x="1058" y="326" width="1" height="28" fill="#000"/><rect x="1056" y="327" width="5" height="16" fill="#000"/><rect x="1066" y="292" width="1" height="52" fill="#000"/><rect x="1064" y="295" width="5" height="49" fill="#000"/><rect x="1065" y="296" width="3" height="47" fill="#fff"/><rect x="1074" y="270" width="1" height="27" fill="#000"/><rect x="1072" y="282" width="5" height="13" fill="#000"/><rect x="1073" y="283" width="3" height="11" fill="#fff"/><rect x="1082" y="273" width="1" height="21" fill="#000"/><rect x="1080" y="281" width="5" height="10" fill="#000"/><rect x="1090" y="271" width="1" height="16" fill="#000"/><rect x="1088" y="273" width="5" height="14" fill="#000"/><rect x="1089" y="274" width="3" height="12" fill="#fff"/><rect x="1098" y="271" width="1" height="57" fill="#000"/><rect x="1096" y="273" width="5" height="51" fill="#000"/><rect x="1106" y="285" width="1" height="41" fill="#000"/><rect x="1104" y="290" width="5" height="33" fill="#000"/><rect x="1105" y="291" width="3" height="31" fill="#fff"/><rect x="1114" y="263" width="1" height="35" fill="#000"/><rect x="1112" y="264" width="5" height="26" fill="#000"/><rect x="1113" y="265" width="3" height="24" fill="#fff"/><rect x="1122" y="256" width="1" height="18" fill="#000"/><rect x="1120" y="257" width="5" height="7" fill="#000"/><rect x="1121" y="258" width="3" height="5" fill="#fff"/><rect x="1130" y="244" width="1" height="15" fill="#000"/><rect x="1128" y="246" width="5" height="11" fill="#000"/><rect x="1129" y="247" width="3" height="9" fill="#fff"/><rect x="1138" y="228" width="1" height="22" fill="#000"/><rect x="1136" y="242" width="5" height="7" fill="#000"/><rect x="1146" y="210" width="1" height="55" fill="#000"/><rect x="1144" y="213" width="5" height="35" fill="#000"/><rect x="1145" y="214" width="3" height="33" fill="#fff"/><rect x="1154" y="195" width="1" height="21" fill="#000"/><rect x="1152" y="208" width="5" height="7" fill="#000"/><rect x="1153" y="209" width="3" height="5" fill="#fff"/><rect x="1162" y="203" width="1" height="14" fill="#000"/><rect x="1160" y="203" width="5" height="7" fill="#000"/><rect x="1161" y="204" width="3" height="5" fill="#fff"/><rect x="1170" y="202" width="1" height="14" fill="#000"/><rect x="1168" y="203" width="5" height="7" fill="#000"/><rect x="1178" y="208" width="1" height="3" fill="#000"/><rect x="1176" y="208" width="5" height="2" fill="#000"/><rect x="1186" y="204" width="1" height="20" fill="#000"/><rect x="1184" y="209" width="5" height="8" fill="#000"/><rect x="1185" y="210" width="3" height="6" fill="#fff"/><rect x="1194" y="186" width="1" height="42" fill="#000"/><rect x="1192" y="204" width="5" height="12" fill="#000"/><rect x="1193" y="205" width="3" height="10" fill="#fff"/><rect x="1202" y="204" width="1" height="38" fill="#000"/><rect x="1200" y="205" width="5" height="24" fill="#000"/><rect x="1210" y="223" width="1" height="26" fill="#000"/><rect x="1208" y="228" width="5" height="3" fill="#000"/><rect x="1218" y="215" width="1" height="36" fill="#000"/><rect x="1216" y="228" width="5" height="16" fill="#000"/><rect x="1226" y="226" width="1" height="20" fill="#000"/><rect x="1224" y="237" width="5" height="6" fill="#000"/><rect x="1225" y="238" width="3" height="4" fill="#fff"/><rect x="1234" y="212" width="1" height="23" fill="#000"/><rect x="1232" y="221" width="5" height="11" fill="#000"/><rect x="1233" y="222" width="3" height="9" fill="#fff"/><rect x="1242" y="183" width="1" height="36" fill="#000"/><rect x="1240" y="190" width="5" height="29" fill="#000"/><rect x="1241" y="191" width="3" height="27" fill="#fff"/><rect x="1250" y="164" width="1" height="37" fill="#000"/><rect x="1248" y="188" width="5" height="3" fill="#000"/><rect x="1249" y="189" width="3" height="1" fill="#fff"/><rect x="1258" y="158" width="1" height="41" fill="#000"/><rect x="1256" y="186" width="5" height="4" fill="#000"/><rect x="1257" y="187" width="3" height="2" fill="#fff"/><rect x="1266" y="168" width="1" height="53" fill="#000"/><rect x="1264" y="176" width="5" height="11" fill="#000"/><rect x="1265" y="177" width="3" height="9" fill="#fff"/><rect x="1274" y="168" width="1" height="28" fill="#000"/><rect x="1272" y="176" width="5" height="12" fill="#000"/><rect x="1282" y="189" width="1" height="20" fill="#000"/><rect x="1280" y="190" width="5" height="14" fill="#000"/><rect x="1290" y="192" width="1" height="36" fill="#000"/><rect x="1288" y="192" width="5" height="13" fill="#000"/><rect x="1289" y="193" width="3" height="11" fill="#fff"/><rect x="1298" y="169" width="1" height="36" fill="#000"/><rect x="1296" y="170" width="5" height="22" fill="#000"/><rect x="1297" y="171" width="3" height="20" fill="#fff"/><rect x="1306" y="169" width="1" height="29" fill="#000"/><rect x="1304" y="170" width="5" height="13" fill="#000"/><rect x="1314" y="137" width="1" height="48" fill="#000"/><rect x="1312" y="140" width="5" height="43" fill="#000"/><rect x="1313" y="141" width="3" height="41" fill="#fff"/><rect x="1322" y="127" width="1" height="22" fill="#000"/><rect x="1320" y="128" width="5" height="13" fill="#000"/><rect x="1321" y="129" width="3" height="11" fill="#fff"/><rect x="1330" y="129" width="1" height="16" fill="#000"/><rect x="1328" y="130" width="5" height="1" fill="#000"/><rect x="1338" y="126" width="1" height="30" fill="#000"/><rect x="1336" y="139" width="5" height="2" fill="#000"/><rect x="1346" y="121" width="1" height="29" fill="#000"/><rect x="1344" y="138" width="5" height="11" fill="#000"/><rect x="1354" y="137" width="1" height="36" fill="#000"/><rect x="1352" y="148" width="5" height="19" fill="#000"/><rect x="1362" y="148" width="1" height="28" fill="#000"/><rect x="1360" y="162" width="5" height="5" fill="#000"/><rect x="1361" y="163" width="3" height="3" fill="#fff"/><rect x="1370" y="159" width="1" height="13" fill="#000"/><rect x="1368" y="161" width="5" height="5" fill="#000"/><rect x="1378" y="155" width="1" height="15" fill="#000"/><rect x="1376" y="164" width="5" height="6" fill="#000"/><rect x="1386" y="91" width="1" height="87" fill="#000"/><rect x="1384" y="97" width="5" height="73" fill="#000"/><rect x="1385" y="98" width="3" height="71" fill="#fff"/><rect x="1394" y="74" width="1" height="32" fill="#000"/><rect x="1392" y="85" width="5" height="14" fill="#000"/><rect x="1393" y="86" width="3" height="12" fill="#fff"/><rect x="1402" y="62" width="1" height="24" fill="#000"/><rect x="1400" y="69" width="5" height="16" fill="#000"/><rect x="1401" y="70" width="3" height="14" fill="#fff"/><rect x="1410" y="65" width="1" height="40" fill="#000"/><rect x="1408" y="68" width="5" height="17" fill="#000"/><rect x="1418" y="77" width="1" height="15" fill="#000"/><rect x="1416" y="81" width="5" height="5" fill="#000"/><rect x="1417" y="82" width="3" height="3" fill="#fff"/><rect x="1426" y="79" width="1" height="7" fill="#000"/><rect x="1424" y="79" width="5" height="7" fill="#000"/></g><rect x="1331.5" y="53.5" width="61" height="18" fill="#fff" stroke="#ff0000" stroke-width="1" shape-rendering="crispEdges"/><rect x="1393" y="62" width="9" height="1" fill="#ff0000" shape-rendering="crispEdges"/><text x="1334" y="69" font-size="16.5" fill="#ff0000" text-anchor="start" font-weight="normal" textLength="57" lengthAdjust="spacingAndGlyphs" >28110.8</text><rect x="1393.5" y="60.5" width="2" height="3" fill="#fff" stroke="#ff0000" stroke-width="1" shape-rendering="crispEdges"/><rect x="1402" y="62" width="1" height="8" fill="#000" shape-rendering="crispEdges"/><rect x="1243.5" y="87.5" width="61" height="18" fill="#fff" stroke="#ff0000" stroke-width="1" shape-rendering="crispEdges"/><rect x="1305" y="96" width="10" height="1" fill="#ff0000" shape-rendering="crispEdges"/><text x="1246" y="103" font-size="16.5" fill="#ff0000" text-anchor="start" font-weight="normal" textLength="57" lengthAdjust="spacingAndGlyphs" >27934.2</text><rect x="1305.5" y="94.5" width="2" height="3" fill="#fff" stroke="#ff0000" stroke-width="1" shape-rendering="crispEdges"/><rect x="859.5" y="238.5" width="61" height="18" fill="#fff" stroke="#ff0000" stroke-width="1" shape-rendering="crispEdges"/><rect x="921" y="247" width="9" height="1" fill="#ff0000" shape-rendering="crispEdges"/><text x="862" y="254" font-size="16.5" fill="#ff0000" text-anchor="start" font-weight="normal" textLength="57" lengthAdjust="spacingAndGlyphs" >27138.0</text><rect x="747.5" y="441.5" width="61" height="18" fill="#fff" stroke="#ff0000" stroke-width="1" shape-rendering="crispEdges"/><rect x="809" y="450" width="9" height="1" fill="#ff0000" shape-rendering="crispEdges"/><text x="750" y="457" font-size="16.5" fill="#ff0000" text-anchor="start" font-weight="normal" textLength="57" lengthAdjust="spacingAndGlyphs" >26072.4</text><rect x="818" y="442" width="1" height="9" fill="#000" shape-rendering="crispEdges"/><line x1="1215.5" y1="240.5" x2="1450.0" y2="82.5" stroke="#ff0000" stroke-width="4" stroke-linecap="round"/><polygon points="1457.5,77.5 1445.5,78.5 1451.7,81.4 1450.5,86.5" fill="#ff0000" stroke="#ff0000" stroke-width="2" stroke-linejoin="round"/><line x1="1323.7" y1="614.3" x2="1426.7" y2="595.1" stroke="#ff0000" stroke-width="3.4" stroke-linecap="round"/><polygon points="1435.5,593.4 1424,590.8 1428.6,594.7 1425,600.3" fill="#ff0000" stroke="#ff0000" stroke-width="2" stroke-linejoin="round"/><line x1="1349.1" y1="827.5" x2="1423.8" y2="806.9" stroke="#ff0000" stroke-width="3.4" stroke-linecap="round"/><polygon points="1432.5,804.5 1420.8,803 1425.8,806.4 1423,811.5" fill="#ff0000" stroke="#ff0000" stroke-width="2" stroke-linejoin="round"/><g shape-rendering="crispEdges" fill="#c0c0c0"><rect x="2" y="655" width="1" height="43"/><rect x="10" y="655" width="1" height="54"/><rect x="18" y="655" width="1" height="63"/><rect x="26" y="655" width="1" height="77"/><rect x="34" y="655" width="1" height="82"/><rect x="42" y="655" width="1" height="80"/><rect x="50" y="655" width="1" height="71"/><rect x="58" y="655" width="1" height="69"/><rect x="66" y="655" width="1" height="64"/><rect x="74" y="655" width="1" height="59"/><rect x="82" y="655" width="1" height="55"/><rect x="90" y="655" width="1" height="45"/><rect x="98" y="655" width="1" height="26"/><rect x="106" y="655" width="1" height="14"/><rect x="114" y="647" width="1" height="9"/><rect x="122" y="632" width="1" height="24"/><rect x="130" y="624" width="1" height="32"/><rect x="138" y="612" width="1" height="44"/><rect x="146" y="607" width="1" height="49"/><rect x="154" y="605" width="1" height="51"/><rect x="162" y="613" width="1" height="43"/><rect x="170" y="622" width="1" height="34"/><rect x="178" y="632" width="1" height="24"/><rect x="186" y="637" width="1" height="19"/><rect x="194" y="641" width="1" height="15"/><rect x="202" y="646" width="1" height="10"/><rect x="210" y="652" width="1" height="4"/><rect x="218" y="652" width="1" height="4"/><rect x="226" y="653" width="1" height="3"/><rect x="234" y="650" width="1" height="6"/><rect x="242" y="651" width="1" height="5"/><rect x="250" y="650" width="1" height="6"/><rect x="258" y="645" width="1" height="11"/><rect x="266" y="641" width="1" height="15"/><rect x="274" y="638" width="1" height="18"/><rect x="282" y="635" width="1" height="21"/><rect x="290" y="634" width="1" height="22"/><rect x="298" y="639" width="1" height="17"/><rect x="306" y="635" width="1" height="21"/><rect x="314" y="624" width="1" height="32"/><rect x="322" y="617" width="1" height="39"/><rect x="330" y="611" width="1" height="45"/><rect x="338" y="608" width="1" height="48"/><rect x="346" y="621" width="1" height="35"/><rect x="354" y="635" width="1" height="21"/><rect x="362" y="645" width="1" height="11"/><rect x="370" y="654" width="1" height="2"/><rect x="378" y="652" width="1" height="4"/><rect x="386" y="653" width="1" height="3"/><rect x="394" y="655" width="1" height="2"/><rect x="402" y="655" width="1" height="6"/><rect x="410" y="655" width="1" height="8"/><rect x="418" y="655" width="1" height="15"/><rect x="426" y="655" width="1" height="27"/><rect x="434" y="655" width="1" height="43"/><rect x="442" y="655" width="1" height="57"/><rect x="450" y="655" width="1" height="69"/><rect x="458" y="655" width="1" height="79"/><rect x="466" y="655" width="1" height="83"/><rect x="474" y="655" width="1" height="87"/><rect x="482" y="655" width="1" height="86"/><rect x="490" y="655" width="1" height="86"/><rect x="498" y="655" width="1" height="83"/><rect x="506" y="655" width="1" height="82"/><rect x="514" y="655" width="1" height="82"/><rect x="522" y="655" width="1" height="75"/><rect x="530" y="655" width="1" height="67"/><rect x="538" y="655" width="1" height="61"/><rect x="546" y="655" width="1" height="64"/><rect x="554" y="655" width="1" height="68"/><rect x="562" y="655" width="1" height="70"/><rect x="570" y="655" width="1" height="71"/><rect x="578" y="655" width="1" height="77"/><rect x="586" y="655" width="1" height="78"/><rect x="594" y="655" width="1" height="84"/><rect x="602" y="655" width="1" height="83"/><rect x="610" y="655" width="1" height="75"/><rect x="618" y="655" width="1" height="56"/><rect x="626" y="655" width="1" height="40"/><rect x="634" y="655" width="1" height="22"/><rect x="642" y="655" width="1" height="7"/><rect x="650" y="648" width="1" height="8"/><rect x="658" y="633" width="1" height="23"/><rect x="666" y="629" width="1" height="27"/><rect x="674" y="627" width="1" height="29"/><rect x="682" y="628" width="1" height="28"/><rect x="690" y="624" width="1" height="32"/><rect x="698" y="626" width="1" height="30"/><rect x="706" y="625" width="1" height="31"/><rect x="714" y="623" width="1" height="33"/><rect x="722" y="616" width="1" height="40"/><rect x="730" y="615" width="1" height="41"/><rect x="738" y="611" width="1" height="45"/><rect x="746" y="607" width="1" height="49"/><rect x="754" y="606" width="1" height="50"/><rect x="762" y="605" width="1" height="51"/><rect x="770" y="604" width="1" height="52"/><rect x="778" y="609" width="1" height="47"/><rect x="786" y="622" width="1" height="34"/><rect x="794" y="636" width="1" height="20"/><rect x="802" y="650" width="1" height="6"/><rect x="810" y="654" width="1" height="2"/><rect x="818" y="655" width="1" height="9"/><rect x="826" y="655" width="1" height="11"/><rect x="834" y="655" width="1" height="9"/><rect x="842" y="655" width="1" height="11"/><rect x="850" y="655" width="1" height="9"/><rect x="858" y="655" width="1" height="2"/><rect x="866" y="645" width="1" height="11"/><rect x="874" y="641" width="1" height="15"/><rect x="882" y="643" width="1" height="13"/><rect x="890" y="640" width="1" height="16"/><rect x="898" y="629" width="1" height="27"/><rect x="906" y="624" width="1" height="32"/><rect x="914" y="618" width="1" height="38"/><rect x="922" y="614" width="1" height="42"/><rect x="930" y="609" width="1" height="47"/><rect x="938" y="604" width="1" height="52"/><rect x="946" y="604" width="1" height="52"/><rect x="954" y="608" width="1" height="48"/><rect x="962" y="614" width="1" height="42"/><rect x="970" y="627" width="1" height="29"/><rect x="978" y="636" width="1" height="20"/><rect x="986" y="640" width="1" height="16"/><rect x="994" y="642" width="1" height="14"/><rect x="1002" y="642" width="1" height="14"/><rect x="1010" y="648" width="1" height="8"/><rect x="1018" y="649" width="1" height="7"/><rect x="1026" y="647" width="1" height="9"/><rect x="1034" y="648" width="1" height="8"/><rect x="1042" y="650" width="1" height="6"/><rect x="1050" y="651" width="1" height="5"/><rect x="1058" y="654" width="1" height="2"/><rect x="1066" y="649" width="1" height="7"/><rect x="1074" y="643" width="1" height="13"/><rect x="1082" y="640" width="1" height="16"/><rect x="1090" y="635" width="1" height="21"/><rect x="1098" y="639" width="1" height="17"/><rect x="1106" y="638" width="1" height="18"/><rect x="1114" y="633" width="1" height="23"/><rect x="1122" y="628" width="1" height="28"/><rect x="1130" y="623" width="1" height="33"/><rect x="1138" y="620" width="1" height="36"/><rect x="1146" y="612" width="1" height="44"/><rect x="1154" y="606" width="1" height="50"/><rect x="1162" y="602" width="1" height="54"/><rect x="1170" y="599" width="1" height="57"/><rect x="1178" y="598" width="1" height="58"/><rect x="1186" y="598" width="1" height="58"/><rect x="1194" y="598" width="1" height="58"/><rect x="1202" y="602" width="1" height="54"/><rect x="1210" y="606" width="1" height="50"/><rect x="1218" y="611" width="1" height="45"/><rect x="1226" y="615" width="1" height="41"/><rect x="1234" y="617" width="1" height="39"/><rect x="1242" y="613" width="1" height="43"/><rect x="1250" y="611" width="1" height="45"/><rect x="1258" y="609" width="1" height="47"/><rect x="1266" y="607" width="1" height="49"/><rect x="1274" y="608" width="1" height="48"/><rect x="1282" y="611" width="1" height="45"/><rect x="1290" y="612" width="1" height="44"/><rect x="1298" y="611" width="1" height="45"/><rect x="1306" y="612" width="1" height="44"/><rect x="1314" y="607" width="1" height="49"/><rect x="1322" y="602" width="1" height="54"/><rect x="1330" y="599" width="1" height="57"/><rect x="1338" y="598" width="1" height="58"/><rect x="1346" y="600" width="1" height="56"/><rect x="1354" y="605" width="1" height="51"/><rect x="1362" y="608" width="1" height="48"/><rect x="1370" y="612" width="1" height="44"/><rect x="1378" y="616" width="1" height="40"/><rect x="1386" y="609" width="1" height="47"/><rect x="1394" y="602" width="1" height="54"/><rect x="1402" y="595" width="1" height="61"/><rect x="1410" y="592" width="1" height="64"/><rect x="1418" y="590" width="1" height="66"/><rect x="1426" y="590" width="1" height="66"/></g><polyline fill="none" stroke="#ff0000" stroke-width="1" stroke-dasharray="3,3" shape-rendering="crispEdges" points="0,697 2.5,698.1 10.5,701.2 18.5,704.9 26.5,707.8 34.5,711.3 42.5,714.9 50.5,717.9 58.5,720.5 66.5,722.6 74.5,724.3 82.5,724.5 90.5,722.4 98.5,716.7 106.5,709.0 114.5,699.1 122.5,688.6 130.5,677.5 138.5,665.6 146.5,653.7 154.5,641.9 162.5,632.2 170.5,625.7 178.5,621.6 186.5,620.5 194.5,621.5 202.5,624.0 210.5,628.5 218.5,633.6 226.5,638.9 234.5,643.0 242.5,646.3 250.5,648.3 258.5,649.2 266.5,649.2 274.5,648.3 282.5,646.3 290.5,644.3 298.5,642.7 306.5,641.0 314.5,638.0 322.5,634.3 330.5,630.5 338.5,626.8 346.5,624.9 354.5,624.9 362.5,626.1 370.5,627.8 378.5,629.8 386.5,633.0 394.5,637.5 402.5,642.9 410.5,649.0 418.5,654.4 426.5,659.7 434.5,665.5 442.5,672.0 450.5,680.0 458.5,689.0 466.5,698.2 474.5,707.3 482.5,716.1 490.5,724.1 498.5,730.3 506.5,734.8 514.5,737.6 522.5,738.3 530.5,736.9 538.5,734.4 546.5,731.8 554.5,729.7 562.5,727.9 570.5,726.6 578.5,726.0 586.5,725.5 594.5,726.5 602.5,728.3 610.5,729.9 618.5,729.1 626.5,726.0 634.5,720.5 642.5,713.3 650.5,704.0 658.5,692.8 666.5,680.5 674.5,668.1 682.5,656.7 690.5,647.0 698.5,639.3 706.5,633.6 714.5,629.3 722.5,625.7 730.5,623.6 738.5,621.5 746.5,619.3 754.5,616.8 762.5,614.7 770.5,612.2 778.5,610.3 786.5,610.3 794.5,612.5 802.5,616.5 810.5,621.4 818.5,627.7 826.5,634.4 834.5,640.9 842.5,647.8 850.5,654.0 858.5,657.8 866.5,658.8 874.5,657.8 882.5,656.6 890.5,654.0 898.5,649.9 906.5,645.6 914.5,640.3 922.5,634.8 930.5,629.4 938.5,624.8 946.5,620.5 954.5,616.5 962.5,613.6 970.5,613.4 978.5,614.7 986.5,617.2 994.5,620.3 1002.5,624.0 1010.5,629.0 1018.5,634.2 1026.5,638.6 1034.5,642.3 1042.5,645.0 1050.5,646.6 1058.5,648.2 1066.5,649.0 1074.5,649.1 1082.5,648.2 1090.5,646.6 1098.5,645.7 1106.5,644.6 1114.5,642.6 1122.5,640.0 1130.5,636.6 1138.5,633.3 1146.5,629.9 1154.5,626.1 1162.5,622.3 1170.5,617.8 1178.5,613.4 1186.5,609.4 1194.5,606.0 1202.5,603.6 1210.5,602.0 1218.5,601.9 1226.5,602.9 1234.5,604.6 1242.5,606.1 1250.5,607.6 1258.5,608.9 1266.5,610.0 1274.5,610.6 1282.5,611.2 1290.5,611.4 1298.5,610.8 1306.5,610.3 1314.5,609.5 1322.5,608.5 1330.5,607.2 1338.5,606.2 1346.5,605.4 1354.5,604.6 1362.5,604.1 1370.5,604.3 1378.5,604.8 1386.5,605.0 1394.5,605.0 1402.5,604.6 1410.5,604.0 1418.5,602.9 1426.5,601.3"/><g stroke="#c0c0c0" stroke-width="1" stroke-dasharray="3,3" stroke-dashoffset="1" shape-rendering="crispEdges"><line x1="0" y1="788.5" x2="1645" y2="788.5"/><line x1="0" y1="839.5" x2="1645" y2="839.5"/><line x1="0" y1="900.5" x2="1645" y2="900.5"/></g><polyline fill="none" stroke="#1e90ff" stroke-width="1" shape-rendering="crispEdges" points="0,856.5 2.5,858.8 10.5,869.9 18.5,871.7 26.5,879.0 34.5,868.5 42.5,857.4 50.5,844.3 58.5,852.3 66.5,848.2 74.5,847.4 82.5,849.8 90.5,836.4 98.5,822.7 106.5,827.0 114.5,814.3 122.5,818.3 130.5,822.8 138.5,816.7 146.5,822.0 154.5,826.6 162.5,839.7 170.5,843.6 178.5,846.1 186.5,842.1 194.5,842.5 202.5,843.2 210.5,849.2 218.5,837.8 226.5,840.6 234.5,833.9 242.5,840.8 250.5,836.2 258.5,830.1 266.5,830.1 274.5,828.3 282.5,828.1 290.5,830.7 298.5,842.4 306.5,828.1 314.5,816.5 322.5,816.4 330.5,817.6 338.5,819.0 346.5,848.8 354.5,853.4 362.5,852.1 370.5,853.2 378.5,836.3 386.5,841.3 394.5,844.0 402.5,846.6 410.5,846.8 418.5,854.6 426.5,865.4 434.5,872.1 442.5,875.1 450.5,876.7 458.5,878.7 466.5,869.4 474.5,871.4 482.5,864.2 490.5,866.0 498.5,861.7 506.5,865.8 514.5,867.0 522.5,852.4 530.5,847.7 538.5,849.4 546.5,864.0 554.5,867.4 562.5,867.7 570.5,866.1 578.5,875.5 586.5,866.6 594.5,874.7 602.5,861.6 610.5,849.9 618.5,829.2 626.5,827.6 634.5,821.6 642.5,821.5 650.5,819.2 658.5,812.4 666.5,829.1 674.5,829.5 682.5,834.2 690.5,827.3 698.5,834.4 706.5,831.2 714.5,827.9 722.5,819.9 730.5,827.2 738.5,821.9 746.5,821.1 754.5,822.9 762.5,822.2 770.5,821.1 778.5,832.8 786.5,851.1 794.5,855.8 802.5,860.0 810.5,845.2 818.5,854.2 826.5,845.5 834.5,838.1 842.5,844.9 850.5,840.4 858.5,830.9 866.5,823.2 874.5,832.3 882.5,839.8 890.5,832.3 898.5,822.2 906.5,827.2 914.5,824.3 922.5,825.4 930.5,821.6 938.5,820.2 946.5,825.8 954.5,833.8 962.5,838.3 970.5,849.5 978.5,847.4 986.5,841.4 994.5,838.6 1002.5,836.9 1010.5,846.8 1018.5,840.1 1026.5,834.3 1034.5,838.2 1042.5,842.2 1050.5,839.8 1058.5,844.1 1066.5,830.4 1074.5,827.2 1082.5,830.0 1090.5,825.3 1098.5,841.4 1106.5,832.5 1114.5,826.4 1122.5,824.8 1130.5,822.2 1138.5,823.0 1146.5,814.9 1154.5,813.8 1162.5,812.7 1170.5,815.4 1178.5,815.4 1186.5,815.4 1194.5,813.8 1202.5,826.5 1210.5,827.2 1218.5,833.5 1226.5,831.1 1234.5,824.8 1242.5,814.4 1250.5,813.8 1258.5,813.2 1266.5,809.9 1274.5,817.4 1282.5,826.6 1290.5,822.1 1298.5,814.3 1306.5,821.6 1314.5,808.6 1322.5,805.6 1330.5,807.1 1338.5,812.7 1346.5,817.7 1354.5,827.6 1362.5,826.0 1370.5,827.8 1378.5,830.1 1386.5,806.0 1394.5,803.2 1402.5,799.7 1410.5,808.3 1418.5,807.5 1426.5,809.9"/><line x1="1349.1" y1="827.5" x2="1423.8" y2="806.9" stroke="#ff0000" stroke-width="3.4" stroke-linecap="round"/><polygon points="1432.5,804.5 1420.8,803 1425.8,806.4 1423,811.5" fill="#ff0000" stroke="#ff0000" stroke-width="2" stroke-linejoin="round"/><g shape-rendering="crispEdges" fill="#000"><rect x="1646" y="47" width="2" height="1"/><rect x="1646" y="80" width="2" height="1"/><rect x="1646" y="113" width="2" height="1"/><rect x="1646" y="146" width="2" height="1"/><rect x="1646" y="179" width="2" height="1"/><rect x="1646" y="212" width="2" height="1"/><rect x="1646" y="245" width="2" height="1"/><rect x="1646" y="278" width="2" height="1"/><rect x="1646" y="311" width="2" height="1"/><rect x="1646" y="344" width="2" height="1"/><rect x="1646" y="377" width="2" height="1"/><rect x="1646" y="410" width="2" height="1"/><rect x="1646" y="443" width="2" height="1"/><rect x="1646" y="476" width="2" height="1"/><rect x="1646" y="509" width="2" height="1"/><rect x="1646" y="542" width="2" height="1"/><rect x="1646" y="575" width="2" height="1"/><rect x="1646" y="655" width="2" height="1"/><rect x="1646" y="788" width="2" height="1"/><rect x="1646" y="839" width="2" height="1"/><rect x="1646" y="900" width="2" height="1"/><rect x="1646" y="919" width="2" height="1"/></g><text x="1651" y="51" font-size="10.4" fill="#000" text-anchor="start" font-weight="normal" textLength="33" lengthAdjust="spacingAndGlyphs" >28190.0</text><text x="1651" y="84" font-size="10.4" fill="#000" text-anchor="start" font-weight="normal" textLength="33" lengthAdjust="spacingAndGlyphs" >28015.0</text><text x="1651" y="117" font-size="10.4" fill="#000" text-anchor="start" font-weight="normal" textLength="33" lengthAdjust="spacingAndGlyphs" >27845.0</text><text x="1651" y="150" font-size="10.4" fill="#000" text-anchor="start" font-weight="normal" textLength="33" lengthAdjust="spacingAndGlyphs" >27670.0</text><text x="1651" y="183" font-size="10.4" fill="#000" text-anchor="start" font-weight="normal" textLength="33" lengthAdjust="spacingAndGlyphs" >27495.0</text><text x="1651" y="216" font-size="10.4" fill="#000" text-anchor="start" font-weight="normal" textLength="33" lengthAdjust="spacingAndGlyphs" >27325.0</text><text x="1651" y="249" font-size="10.4" fill="#000" text-anchor="start" font-weight="normal" textLength="33" lengthAdjust="spacingAndGlyphs" >27150.0</text><text x="1651" y="282" font-size="10.4" fill="#000" text-anchor="start" font-weight="normal" textLength="33" lengthAdjust="spacingAndGlyphs" >26975.0</text><text x="1651" y="315" font-size="10.4" fill="#000" text-anchor="start" font-weight="normal" textLength="33" lengthAdjust="spacingAndGlyphs" >26800.0</text><text x="1651" y="348" font-size="10.4" fill="#000" text-anchor="start" font-weight="normal" textLength="33" lengthAdjust="spacingAndGlyphs" >26630.0</text><text x="1651" y="381" font-size="10.4" fill="#000" text-anchor="start" font-weight="normal" textLength="33" lengthAdjust="spacingAndGlyphs" >26455.0</text><text x="1651" y="414" font-size="10.4" fill="#000" text-anchor="start" font-weight="normal" textLength="33" lengthAdjust="spacingAndGlyphs" >26280.0</text><text x="1651" y="447" font-size="10.4" fill="#000" text-anchor="start" font-weight="normal" textLength="33" lengthAdjust="spacingAndGlyphs" >26110.0</text><text x="1651" y="480" font-size="10.4" fill="#000" text-anchor="start" font-weight="normal" textLength="33" lengthAdjust="spacingAndGlyphs" >25935.0</text><text x="1651" y="513" font-size="10.4" fill="#000" text-anchor="start" font-weight="normal" textLength="33" lengthAdjust="spacingAndGlyphs" >25760.0</text><text x="1651" y="546" font-size="10.4" fill="#000" text-anchor="start" font-weight="normal" textLength="33" lengthAdjust="spacingAndGlyphs" >25585.0</text><text x="1651" y="579" font-size="10.4" fill="#000" text-anchor="start" font-weight="normal" textLength="33" lengthAdjust="spacingAndGlyphs" >25415.0</text><text x="1649" y="591" font-size="10.4" fill="#000" text-anchor="start" font-weight="normal" textLength="28" lengthAdjust="spacingAndGlyphs" >205.13</text><text x="1649" y="659" font-size="10.4" fill="#000" text-anchor="start" font-weight="normal" textLength="18" lengthAdjust="spacingAndGlyphs" >0.00</text><text x="1649" y="747" font-size="10.4" fill="#000" text-anchor="start" font-weight="normal" textLength="32" lengthAdjust="spacingAndGlyphs" >-261.88</text><text x="1650" y="763" font-size="10.4" fill="#000" text-anchor="start" font-weight="normal" textLength="15" lengthAdjust="spacingAndGlyphs" >100</text><text x="1650" y="792" font-size="10.4" fill="#000" text-anchor="start" font-weight="normal" textLength="10" lengthAdjust="spacingAndGlyphs" >80</text><text x="1650" y="843" font-size="10.4" fill="#000" text-anchor="start" font-weight="normal" textLength="10" lengthAdjust="spacingAndGlyphs" >50</text><text x="1650" y="904" font-size="10.4" fill="#000" text-anchor="start" font-weight="normal" textLength="10" lengthAdjust="spacingAndGlyphs" >15</text><text x="1650" y="923" font-size="10.4" fill="#000" text-anchor="start" font-weight="normal" textLength="5" lengthAdjust="spacingAndGlyphs" >0</text><rect x="1647" y="25" width="41" height="11" fill="#ff0000" shape-rendering="crispEdges"/><text x="1651" y="34" font-size="10.4" fill="#fff" text-anchor="start" font-weight="normal" textLength="33" lengthAdjust="spacingAndGlyphs" >28272.7</text><rect x="1647" y="51" width="41" height="11" fill="#ff0000" shape-rendering="crispEdges"/><text x="1651" y="60" font-size="10.4" fill="#fff" text-anchor="start" font-weight="normal" textLength="33" lengthAdjust="spacingAndGlyphs" >28136.0</text><rect x="1647" y="80" width="41" height="11" fill="#000000" shape-rendering="crispEdges"/><text x="1651" y="89" font-size="10.4" fill="#fff" text-anchor="start" font-weight="normal" textLength="33" lengthAdjust="spacingAndGlyphs" >27992.5</text><rect x="1647" y="90" width="41" height="11" fill="#32cd32" shape-rendering="crispEdges"/><text x="1651" y="99" font-size="10.4" fill="#fff" text-anchor="start" font-weight="normal" textLength="33" lengthAdjust="spacingAndGlyphs" >27934.2</text><rect x="1647" y="115" width="41" height="11" fill="#0000ff" shape-rendering="crispEdges"/><text x="1651" y="124" font-size="10.4" fill="#fff" text-anchor="start" font-weight="normal" textLength="33" lengthAdjust="spacingAndGlyphs" >27803.1</text><rect x="1647" y="142" width="41" height="11" fill="#0000ff" shape-rendering="crispEdges"/><text x="1651" y="151" font-size="10.4" fill="#fff" text-anchor="start" font-weight="normal" textLength="33" lengthAdjust="spacingAndGlyphs" >27661.8</text><g shape-rendering="crispEdges" fill="#000"><rect x="50" y="927" width="1" height="3"/><rect x="114" y="927" width="1" height="3"/><rect x="178" y="927" width="1" height="3"/><rect x="242" y="927" width="1" height="3"/><rect x="306" y="927" width="1" height="3"/><rect x="370" y="927" width="1" height="3"/><rect x="434" y="927" width="1" height="3"/><rect x="498" y="927" width="1" height="3"/><rect x="562" y="927" width="1" height="3"/><rect x="626" y="927" width="1" height="3"/><rect x="690" y="927" width="1" height="3"/><rect x="754" y="927" width="1" height="3"/><rect x="818" y="927" width="1" height="3"/><rect x="882" y="927" width="1" height="3"/><rect x="946" y="927" width="1" height="3"/><rect x="1010" y="927" width="1" height="3"/><rect x="1074" y="927" width="1" height="3"/><rect x="1138" y="927" width="1" height="3"/><rect x="1202" y="927" width="1" height="3"/><rect x="1266" y="927" width="1" height="3"/><rect x="1330" y="927" width="1" height="3"/><rect x="1394" y="927" width="1" height="3"/></g><text x="49.5" y="939" font-size="10.4" fill="#000" text-anchor="start" font-weight="normal" textLength="53.8" lengthAdjust="spacingAndGlyphs" >27 Apr 04:00</text><text x="113.5" y="939" font-size="10.4" fill="#000" text-anchor="start" font-weight="normal" textLength="53.8" lengthAdjust="spacingAndGlyphs" >28 Apr 14:55</text><text x="177.5" y="939" font-size="10.4" fill="#000" text-anchor="start" font-weight="normal" textLength="51.7" lengthAdjust="spacingAndGlyphs" >1 May 23:30</text><text x="241.5" y="939" font-size="10.4" fill="#000" text-anchor="start" font-weight="normal" textLength="51.7" lengthAdjust="spacingAndGlyphs" >3 May 04:00</text><text x="305.5" y="939" font-size="10.4" fill="#000" text-anchor="start" font-weight="normal" textLength="51.7" lengthAdjust="spacingAndGlyphs" >4 May 14:55</text><text x="369.5" y="939" font-size="10.4" fill="#000" text-anchor="start" font-weight="normal" textLength="51.7" lengthAdjust="spacingAndGlyphs" >5 May 23:30</text><text x="433.5" y="939" font-size="10.4" fill="#000" text-anchor="start" font-weight="normal" textLength="51.7" lengthAdjust="spacingAndGlyphs" >9 May 04:00</text><text x="497.5" y="939" font-size="10.4" fill="#000" text-anchor="start" font-weight="normal" textLength="57.0" lengthAdjust="spacingAndGlyphs" >10 May 14:55</text><text x="561.5" y="939" font-size="10.4" fill="#000" text-anchor="start" font-weight="normal" textLength="57.0" lengthAdjust="spacingAndGlyphs" >11 May 23:30</text><text x="625.5" y="939" font-size="10.4" fill="#000" text-anchor="start" font-weight="normal" textLength="57.0" lengthAdjust="spacingAndGlyphs" >13 May 04:00</text><text x="689.5" y="939" font-size="10.4" fill="#000" text-anchor="start" font-weight="normal" textLength="57.0" lengthAdjust="spacingAndGlyphs" >16 May 14:55</text><text x="753.5" y="939" font-size="10.4" fill="#000" text-anchor="start" font-weight="normal" textLength="57.0" lengthAdjust="spacingAndGlyphs" >17 May 23:30</text><text x="817.5" y="939" font-size="10.4" fill="#000" text-anchor="start" font-weight="normal" textLength="57.0" lengthAdjust="spacingAndGlyphs" >19 May 04:00</text><text x="881.5" y="939" font-size="10.4" fill="#000" text-anchor="start" font-weight="normal" textLength="57.0" lengthAdjust="spacingAndGlyphs" >20 May 14:55</text><text x="945.5" y="939" font-size="10.4" fill="#000" text-anchor="start" font-weight="normal" textLength="57.0" lengthAdjust="spacingAndGlyphs" >23 May 23:30</text><text x="1009.5" y="939" font-size="10.4" fill="#000" text-anchor="start" font-weight="normal" textLength="57.0" lengthAdjust="spacingAndGlyphs" >25 May 04:00</text><text x="1073.5" y="939" font-size="10.4" fill="#000" text-anchor="start" font-weight="normal" textLength="57.0" lengthAdjust="spacingAndGlyphs" >26 May 14:55</text><text x="1137.5" y="939" font-size="10.4" fill="#000" text-anchor="start" font-weight="normal" textLength="57.0" lengthAdjust="spacingAndGlyphs" >29 May 23:30</text><text x="1201.5" y="939" font-size="10.4" fill="#000" text-anchor="start" font-weight="normal" textLength="57.0" lengthAdjust="spacingAndGlyphs" >31 May 04:00</text><text x="1265.5" y="939" font-size="10.4" fill="#000" text-anchor="start" font-weight="normal" textLength="49.1" lengthAdjust="spacingAndGlyphs" >1 Jun 14:55</text><text x="1329.5" y="939" font-size="10.4" fill="#000" text-anchor="start" font-weight="normal" textLength="49.1" lengthAdjust="spacingAndGlyphs" >2 Jun 23:30</text><text x="1393.5" y="939" font-size="10.4" fill="#000" text-anchor="start" font-weight="normal" textLength="49.1" lengthAdjust="spacingAndGlyphs" >6 Jun 04:00</text><text x="-18.5" y="939" font-size="10.4" fill="#000" text-anchor="start" font-weight="normal" textLength="51" lengthAdjust="spacingAndGlyphs" >26 Apr 2022</text><text x="1" y="37" font-size="10.4" fill="#000" text-anchor="start" font-weight="normal" textLength="50" lengthAdjust="spacingAndGlyphs" >JPN225-,H4</text><text x="57" y="37" font-size="10.4" fill="#000" text-anchor="start" font-weight="normal" textLength="140" lengthAdjust="spacingAndGlyphs" >28022.5 28022.5 27992.5 27992.5</text><text x="-8.5" y="593" font-size="10.4" fill="#000" text-anchor="start" font-weight="normal" textLength="126" lengthAdjust="spacingAndGlyphs" >MACD(12,26,9) 183.90 152.32</text><text x="-9" y="765" font-size="10.4" fill="#000" text-anchor="start" font-weight="normal" textLength="66.7" lengthAdjust="spacingAndGlyphs" >RSI(14) 67.7282</text><defs>
<linearGradient id="rg" x1="0" y1="0" x2="0" y2="1">
<stop offset="0" stop-color="#f45b5b"/><stop offset="1" stop-color="#e03030"/></linearGradient>
<linearGradient id="rg2" x1="0" y1="0" x2="0" y2="1">
<stop offset="0" stop-color="#d42a2a"/><stop offset="1" stop-color="#b80000"/></linearGradient>
<linearGradient id="sg" x1="0" y1="0" x2="0" y2="1">
<stop offset="0" stop-color="#f4f4f4"/><stop offset="1" stop-color="#dcdcdc"/></linearGradient>
</defs><g shape-rendering="crispEdges"><rect x="0" y="44" width="210" height="59" fill="#fff"/><rect x="0" y="45" width="41" height="25" fill="url(#rg)"/><rect x="0" y="69" width="37" height="1" fill="#b01818"/><rect x="41" y="45" width="1" height="24" fill="#fff"/><rect x="0" y="69" width="98" height="33" fill="url(#rg2)"/><rect x="156" y="45" width="52" height="25" fill="url(#rg)"/><rect x="160" y="69" width="44" height="1" fill="#b01818"/><rect x="100" y="69" width="108" height="33" fill="url(#rg2)"/><rect x="42" y="45" width="114" height="24" fill="#fff"/><rect x="43.5" y="45.5" width="110" height="21" fill="#fff" stroke="#a8a8a8" stroke-width="1"/><rect x="44" y="46" width="20" height="20" fill="url(#sg)"/><rect x="64" y="46" width="1" height="20" fill="#a8a8a8"/><rect x="133" y="46" width="20" height="20" fill="url(#sg)"/><rect x="132" y="46" width="1" height="20" fill="#a8a8a8"/></g><polygon points="51,54 57,54 54,57" fill="#5060b0"/><polygon points="140,57 146,57 143,54" fill="#5060b0"/><text x="129" y="61" font-size="12.5" fill="#000" text-anchor="end" font-weight="normal" >1.00</text><text x="1" y="61" font-size="12.5" fill="#fff" text-anchor="start" font-weight="normal" textLength="26" lengthAdjust="spacingAndGlyphs" >SELL</text><text x="168" y="61" font-size="12.5" fill="#fff" text-anchor="start" font-weight="normal" textLength="26" lengthAdjust="spacingAndGlyphs" >BUY</text><text x="5" y="97" font-size="11" fill="#fff" text-anchor="start" font-weight="bold" textLength="35" lengthAdjust="spacingAndGlyphs" >27991</text><text x="115" y="97" font-size="11" fill="#fff" text-anchor="start" font-weight="bold" textLength="35" lengthAdjust="spacingAndGlyphs" >28014</text><rect x="44" y="94" width="3" height="3" fill="#fff"/><rect x="155" y="94" width="3" height="3" fill="#fff"/><text x="49.5" y="97" font-size="36" fill="#fff" text-anchor="start" font-weight="normal" font-family='"Liberation Serif", serif' >0</text><text x="160.5" y="97" font-size="36" fill="#fff" text-anchor="start" font-weight="normal" font-family='"Liberation Serif", serif' >0</text></svg>
</body></html>
